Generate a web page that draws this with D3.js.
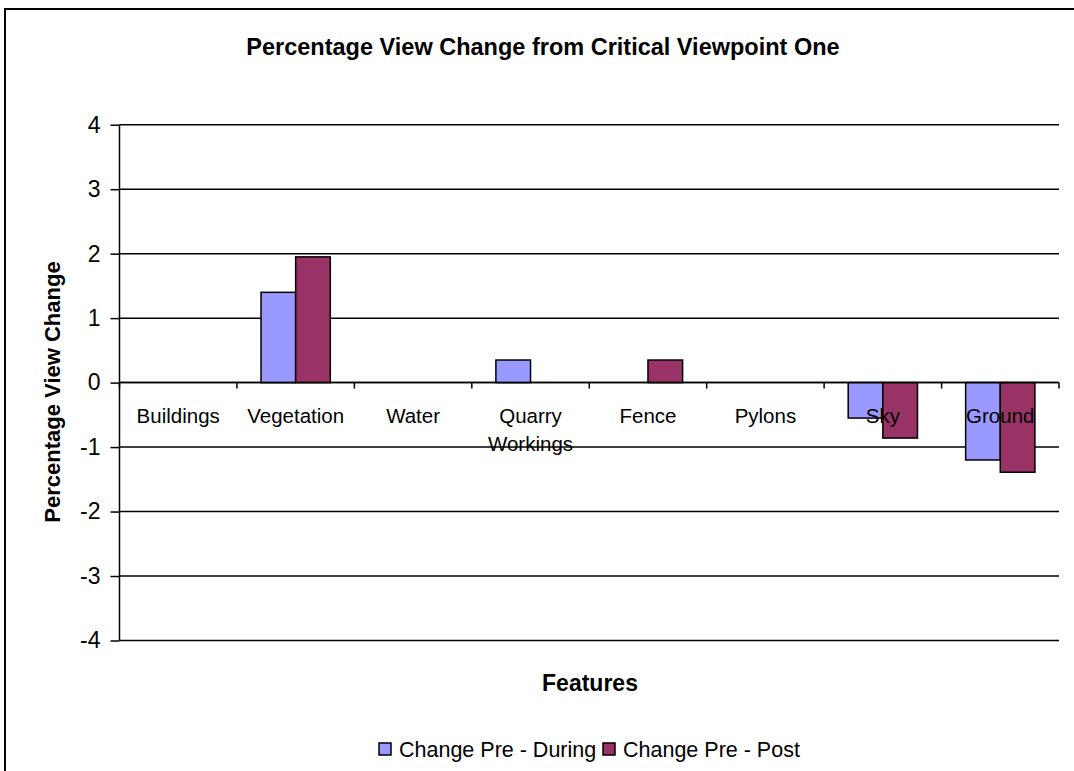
<!DOCTYPE html>
<html>
<head>
<meta charset="utf-8">
<script src="https://cdn.jsdelivr.net/npm/d3@7"></script>
<style>
  body { margin: 0; background: #fff; }
  svg { font-family: 'Liberation Sans', Arial, sans-serif; }
</style>
</head>
<body>
<div id="chart"></div>
<script>
const categories = ['Buildings', 'Vegetation', 'Water', 'Quarry Workings', 'Fence', 'Pylons', 'Sky', 'Ground'];
const seriesNames = ['Change Pre - During', 'Change Pre - Post'];
const preDuring = [0, 1.4, 0, 0.35, 0, 0, -0.55, -1.2];
const prePost = [0, 1.95, 0, 0, 0.35, 0, -0.86, -1.39];
const yTicks = [-4, -3, -2, -1, 0, 1, 2, 3, 4];
const colors = ['#9999ff', '#993366'];

const width = 1074;
const height = 771;
const margin = { top: 124.7, left: 119.5 };
const plotW = 1059 - margin.left;
const plotH = 640.5 - margin.top;

const svg = d3.select('#chart').append('svg').attr('width', width).attr('height', height);

// outer frame, runs off the right and bottom edge like the source
svg.append('rect')
  .attr('x', 5).attr('y', 9)
  .attr('width', width + 20).attr('height', height + 20)
  .attr('fill', 'none').attr('stroke', '#000').attr('stroke-width', 2);

const g = svg.append('g').attr('transform', `translate(${margin.left},${margin.top})`);

const x0 = d3.scaleBand().domain(categories).range([0, plotW]).paddingInner(0.41).paddingOuter(0.205);
const x1 = d3.scaleBand().domain([0, 1]).range([0, x0.bandwidth()]);
const y = d3.scaleLinear().domain([-4, 4]).range([plotH, 0]);

// gridlines
g.append('g')
  .selectAll('line')
  .data(yTicks)
  .join('line')
  .attr('x1', 0).attr('x2', plotW)
  .attr('y1', (d) => y(d)).attr('y2', (d) => y(d))
  .attr('stroke', '#000').attr('stroke-width', 1.5);

// y axis
const yAxis = g.append('g')
  .call(d3.axisLeft(y).tickValues(yTicks).tickSize(9).tickPadding(10).tickFormat(d3.format('d')));
yAxis.select('.domain').attr('stroke-width', 1.5).attr('d', `M0,0V${plotH}`);
yAxis.selectAll('.tick line').attr('stroke-width', 1.5);
yAxis.selectAll('text').attr('font-size', 23).attr('font-family', null).attr('fill', '#000');
yAxis.selectAll('text').text((d) => (d < 0 ? '-' + Math.abs(d) : d));

// bars
const rows = categories.map((c, i) => ({ cat: c, vals: [preDuring[i], prePost[i]] }));
g.append('g')
  .selectAll('g')
  .data(rows)
  .join('g')
  .attr('transform', (d) => `translate(${x0(d.cat)},0)`)
  .selectAll('rect')
  .data((d) => d.vals.map((v, k) => ({ v, k })).filter((e) => e.v !== 0))
  .join('rect')
  .attr('x', (d) => x1(d.k))
  .attr('width', x1.bandwidth())
  .attr('y', (d) => y(Math.max(0, d.v)))
  .attr('height', (d) => Math.abs(y(d.v) - y(0)))
  .attr('fill', (d) => colors[d.k])
  .attr('stroke', '#000').attr('stroke-width', 1.5);

// category ticks on zero line
const step = x0.step();
g.append('g')
  .selectAll('line')
  .data(d3.range(categories.length + 1))
  .join('line')
  .attr('x1', (d) => d * step).attr('x2', (d) => d * step)
  .attr('y1', y(0)).attr('y2', y(0) + 6)
  .attr('stroke', '#000').attr('stroke-width', 1.5);

// zero line drawn on top
g.append('line')
  .attr('x1', 0).attr('x2', plotW)
  .attr('y1', y(0)).attr('y2', y(0))
  .attr('stroke', '#000').attr('stroke-width', 1.5);

// category labels
const labels = g.append('g')
  .selectAll('text')
  .data(categories)
  .join('text')
  .attr('x', (d) => x0(d) + x0.bandwidth() / 2)
  .attr('y', y(0) + 40)
  .attr('text-anchor', 'middle')
  .attr('font-size', 20.5);
labels.each(function (d) {
  const words = d === 'Quarry Workings' ? ['Quarry', 'Workings'] : [d];
  d3.select(this)
    .selectAll('tspan')
    .data(words)
    .join('tspan')
    .attr('x', x0(d) + x0.bandwidth() / 2)
    .attr('dy', (w, i) => (i === 0 ? 0 : 28.5))
    .text((w) => w);
});

// titles
svg.append('text')
  .attr('x', 543).attr('y', 55)
  .attr('text-anchor', 'middle')
  .attr('font-size', 23.5).attr('font-weight', 'bold')
  .text('Percentage View Change from Critical Viewpoint One');

svg.append('text')
  .attr('x', 590).attr('y', 691)
  .attr('text-anchor', 'middle')
  .attr('font-size', 23).attr('font-weight', 'bold')
  .text('Features');

svg.append('text')
  .attr('transform', 'translate(60,392) rotate(-90)')
  .attr('text-anchor', 'middle')
  .attr('font-size', 22).attr('font-weight', 'bold')
  .text('Percentage View Change');

// legend
const legendX = [379, 603];
const legend = svg.append('g')
  .selectAll('g')
  .data(seriesNames)
  .join('g')
  .attr('transform', (d, i) => `translate(${legendX[i]},743)`);
legend.append('rect')
  .attr('width', 12).attr('height', 12)
  .attr('fill', (d, i) => colors[i])
  .attr('stroke', '#000').attr('stroke-width', 1.5);
legend.append('text')
  .attr('x', 20).attr('y', 14)
  .attr('font-size', 21.5)
  .text((d) => d);
</script>
</body>
</html>
